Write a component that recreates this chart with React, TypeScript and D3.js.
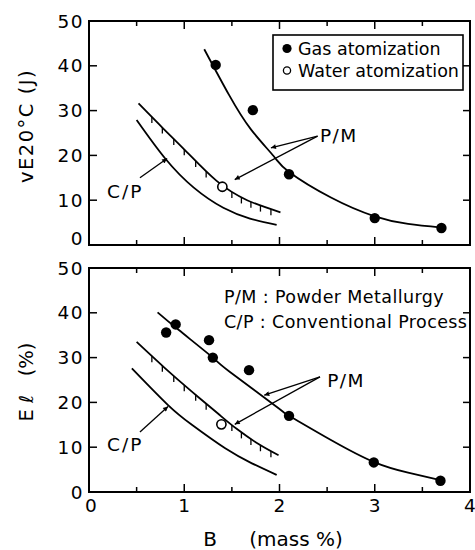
import React, { useEffect, useRef } from "react";
import * as d3 from "d3";

// ---------- data (B mass %, value) ----------
const xTickValues = [0, 1, 2, 3, 4];
const yTickValues = [0, 10, 20, 30, 40, 50];

// Top panel: vE20°C (J)
const topGasB = [1.33, 1.72, 2.1, 3.0, 3.7];
const topGasE = [40.2, 30.1, 15.8, 6.0, 3.8];
const topWaterB = [1.4];
const topWaterE = [13.0];
const topPMB = [1.21, 1.47, 1.7, 1.94, 2.1, 2.54, 3.0, 3.35, 3.7];
const topPME = [43.7, 33.5, 25.8, 19.8, 16.3, 10.6, 6.4, 4.7, 3.9];
const topCPUpperB = [0.52, 0.78, 1.03, 1.34, 1.66, 2.01];
const topCPUpperE = [31.6, 26.0, 20.7, 14.3, 10.0, 7.3];
const topCPLowerB = [0.5, 0.8, 1.1, 1.41, 1.69, 1.97];
const topCPLowerE = [27.9, 19.3, 12.8, 8.3, 5.9, 4.5];

// Bottom panel: El (%)
const botGasB = [0.81, 0.91, 1.26, 1.3, 1.68, 2.1, 2.99, 3.69];
const botGasE = [35.6, 37.4, 33.9, 30.0, 27.2, 17.0, 6.6, 2.5];
const botWaterB = [1.39];
const botWaterE = [15.1];
const botPMB = [0.72, 0.94, 1.3, 1.48, 1.99, 2.1, 2.54, 3.0, 3.35, 3.7];
const botPME = [40.1, 36.2, 30.0, 26.8, 18.7, 17.0, 11.6, 6.6, 4.3, 2.6];
const botCPUpperB = [0.5, 0.8, 1.08, 1.36, 1.55, 1.78, 1.99];
const botCPUpperE = [33.5, 27.6, 22.4, 17.4, 14.1, 10.7, 8.2];
const botCPLowerB = [0.45, 0.83, 1.08, 1.43, 1.71, 1.97];
const botCPLowerE = [27.6, 19.4, 15.0, 9.75, 6.4, 3.8];

// hatch positions along the C/P band (B values)
const hatchB = [0.66, 0.77, 0.89, 1.0, 1.12, 1.23, 1.5, 1.6, 1.7, 1.8, 1.91];

// annotations in data units
const topPMLabel = [2.425, 23.0];
const topPMArrowFrom = [2.4, 24.3];
const topPMArrowTo = [[1.91, 21.7], [1.53, 14.6]];
const topCPLabel = [0.19, 10.5];
const topCPArrowFrom = [0.535, 15.0];
const topCPArrowTo = [0.82, 19.3];

const botPMLabel = [2.5, 23.4];
const botPMArrowFrom = [2.425, 25.7];
const botPMArrowTo = [[1.84, 21.6], [1.53, 15.1]];
const botCPLabel = [0.19, 9.15];
const botCPArrowFrom = [0.535, 13.4];
const botCPArrowTo = [0.83, 19.1];

const legendLabels = ["Gas atomization", "Water atomization"];
const noteLines = ["P/M : Powder Metallurgy", "C/P : Conventional Process"];

const FONT = "'DejaVu Sans', sans-serif";

export default function App() {
  const ref = useRef<SVGSVGElement>(null);

  useEffect(() => {
    const svg = d3.select(ref.current);
    svg.selectAll("*").remove();

    const x = d3.scaleLinear().domain([0, 4]).range([89, 470]);
    const yTop = d3.scaleLinear().domain([0, 50]).range([245, 21]);
    const yBot = d3.scaleLinear().domain([0, 50]).range([492, 268]);

    const defs = svg.append("defs");
    defs
      .append("marker")
      .attr("id", "arr")
      .attr("viewBox", "0 0 10 10")
      .attr("refX", 10)
      .attr("refY", 5)
      .attr("markerWidth", 9)
      .attr("markerHeight", 5)
      .attr("markerUnits", "userSpaceOnUse")
      .attr("orient", "auto")
      .append("path")
      .attr("d", "M0,0 L10,5 L0,10 Z")
      .attr("fill", "#000");

    const zip = (a: number[], b: number[]) => a.map((v, i) => [v, b[i]] as [number, number]);

    const drawPanel = (
      y: d3.ScaleLinear<number, number>,
      p: {
        gasB: number[]; gasE: number[]; waterB: number[]; waterE: number[];
        pmB: number[]; pmE: number[]; upB: number[]; upE: number[]; loB: number[]; loE: number[];
        pmLabel: number[]; pmFrom: number[]; pmTo: number[][];
        cpLabel: number[]; cpFrom: number[]; cpTo: number[];
        zeroShift: number;
      }
    ) => {
      const g = svg.append("g");
      const [x0, x1] = x.range();
      const [y0, y1] = y.range();

      // ticks
      const minor = d3.range(0, 4.01, 0.5);
      minor.forEach((v) => {
        const len = Math.abs(v - Math.round(v)) < 1e-6 ? 8 : 5;
        g.append("line").attr("x1", x(v)).attr("x2", x(v)).attr("y1", y0).attr("y2", y0 - len)
          .attr("stroke", "#000").attr("stroke-width", 1.5);
        g.append("line").attr("x1", x(v)).attr("x2", x(v)).attr("y1", y1).attr("y2", y1 + len)
          .attr("stroke", "#000").attr("stroke-width", 1.5);
      });
      yTickValues.forEach((v) => {
        g.append("line").attr("x1", x0).attr("x2", x0 + 8).attr("y1", y(v)).attr("y2", y(v))
          .attr("stroke", "#000").attr("stroke-width", 1.5);
        g.append("line").attr("x1", x1).attr("x2", x1 - 7).attr("y1", y(v)).attr("y2", y(v))
          .attr("stroke", "#000").attr("stroke-width", 1.5);
        g.append("text")
          .attr("x", x0 - 5)
          .attr("y", y(v) + (v === 0 ? p.zeroShift : 0))
          .attr("dy", "0.36em")
          .attr("text-anchor", "end")
          .attr("font-family", FONT)
          .attr("font-size", 18.5)
          .attr("letter-spacing", 1.5)
          .text(String(v));
      });

      // frame
      g.append("rect").attr("x", x0).attr("y", y1).attr("width", x1 - x0).attr("height", y0 - y1)
        .attr("fill", "none").attr("stroke", "#000").attr("stroke-width", 2);

      const line = d3.line<[number, number]>()
        .x((d) => x(d[0])).y((d) => y(d[1]))
        .curve(d3.curveNatural);

      // C/P band
      const up = g.append("path").attr("d", line(zip(p.upB, p.upE)) as string)
        .attr("fill", "none").attr("stroke", "#000").attr("stroke-width", 1.8);
      g.append("path").attr("d", line(zip(p.loB, p.loE)) as string)
        .attr("fill", "none").attr("stroke", "#000").attr("stroke-width", 1.8);

      // hatch ticks hanging from upper curve
      const node = up.node() as SVGPathElement;
      const total = node.getTotalLength();
      const yAt = (px: number) => {
        let lo = 0, hi = total;
        for (let i = 0; i < 30; i++) {
          const mid = (lo + hi) / 2;
          if (node.getPointAtLength(mid).x < px) lo = mid; else hi = mid;
        }
        return node.getPointAtLength((lo + hi) / 2).y;
      };
      hatchB.forEach((b) => {
        const px = x(b);
        const py = yAt(px);
        g.append("line").attr("x1", px).attr("x2", px).attr("y1", py).attr("y2", py + 6)
          .attr("stroke", "#000").attr("stroke-width", 1.3);
      });

      // P/M curve
      g.append("path").attr("d", line(zip(p.pmB, p.pmE)) as string)
        .attr("fill", "none").attr("stroke", "#000").attr("stroke-width", 1.8);

      // points
      zip(p.gasB, p.gasE).forEach((d) => {
        g.append("circle").attr("cx", x(d[0])).attr("cy", y(d[1])).attr("r", 5.2).attr("fill", "#000");
      });
      zip(p.waterB, p.waterE).forEach((d) => {
        g.append("circle").attr("cx", x(d[0])).attr("cy", y(d[1])).attr("r", 4.6)
          .attr("fill", "#fff").attr("stroke", "#000").attr("stroke-width", 1.6);
      });

      // annotations
      g.append("text").attr("x", x(p.pmLabel[0])).attr("y", y(p.pmLabel[1]))
        .attr("font-family", FONT).attr("font-size", 18.5).attr("letter-spacing", 1.5).text("P/M");
      p.pmTo.forEach((t) => {
        g.append("line").attr("x1", x(p.pmFrom[0])).attr("y1", y(p.pmFrom[1]))
          .attr("x2", x(t[0])).attr("y2", y(t[1]))
          .attr("stroke", "#000").attr("stroke-width", 1.3).attr("marker-end", "url(#arr)");
      });
      g.append("text").attr("x", x(p.cpLabel[0])).attr("y", y(p.cpLabel[1]))
        .attr("font-family", FONT).attr("font-size", 18.5).attr("letter-spacing", 2).text("C/P");
      g.append("line").attr("x1", x(p.cpFrom[0])).attr("y1", y(p.cpFrom[1]))
        .attr("x2", x(p.cpTo[0])).attr("y2", y(p.cpTo[1]))
        .attr("stroke", "#000").attr("stroke-width", 1.3).attr("marker-end", "url(#arr)");
      return g;
    };

    const gTop = drawPanel(yTop, {
      gasB: topGasB, gasE: topGasE, waterB: topWaterB, waterE: topWaterE,
      pmB: topPMB, pmE: topPME, upB: topCPUpperB, upE: topCPUpperE, loB: topCPLowerB, loE: topCPLowerE,
      pmLabel: topPMLabel, pmFrom: topPMArrowFrom, pmTo: topPMArrowTo,
      cpLabel: topCPLabel, cpFrom: topCPArrowFrom, cpTo: topCPArrowTo,
      zeroShift: -7,
    });
    const gBot = drawPanel(yBot, {
      gasB: botGasB, gasE: botGasE, waterB: botWaterB, waterE: botWaterE,
      pmB: botPMB, pmE: botPME, upB: botCPUpperB, upE: botCPUpperE, loB: botCPLowerB, loE: botCPLowerE,
      pmLabel: botPMLabel, pmFrom: botPMArrowFrom, pmTo: botPMArrowTo,
      cpLabel: botCPLabel, cpFrom: botCPArrowFrom, cpTo: botCPArrowTo,
      zeroShift: 0,
    });

    // legend (top)
    const lg = gTop.append("g").attr("transform", "translate(273,35)");
    lg.append("rect").attr("width", 190).attr("height", 55).attr("fill", "#fff")
      .attr("stroke", "#000").attr("stroke-width", 1.6);
    lg.append("circle").attr("cx", 14).attr("cy", 13.5).attr("r", 4.6).attr("fill", "#000");
    lg.append("circle").attr("cx", 14).attr("cy", 35.5).attr("r", 3.6).attr("fill", "#fff")
      .attr("stroke", "#000").attr("stroke-width", 1.3);
    legendLabels.forEach((t, i) => {
      lg.append("text").attr("x", 25).attr("y", 20 + i * 22)
        .attr("font-family", FONT).attr("font-size", 17.5).text(t);
    });

    // notes (bottom)
    noteLines.forEach((t, i) => {
      gBot.append("text").attr("x", 224).attr("y", 303 + i * 25)
        .attr("font-family", FONT).attr("font-size", 17.5).attr("letter-spacing", 0.4).text(t);
    });

    // x tick labels
    xTickValues.forEach((v) => {
      svg.append("text").attr("x", x(v) + (v === 0 ? 2 : 0)).attr("y", 512)
        .attr("text-anchor", "middle").attr("font-family", FONT).attr("font-size", 18.5).text(String(v));
    });
    svg.append("text").attr("x", 210).attr("y", 546).attr("text-anchor", "middle")
      .attr("font-family", FONT).attr("font-size", 20).text("B");
    svg.append("text").attr("x", 296).attr("y", 546).attr("text-anchor", "middle")
      .attr("font-family", FONT).attr("font-size", 20).text("(mass %)");

    // y titles
    svg.append("text").attr("transform", "translate(33,126) rotate(-90)")
      .attr("text-anchor", "middle").attr("font-family", FONT).attr("font-size", 19.5)
      .attr("letter-spacing", 1.5).text("vE20°C (J)");
    svg.append("text").attr("transform", "translate(33,382) rotate(-90)")
      .attr("text-anchor", "middle").attr("font-family", FONT).attr("font-size", 19.5)
      .style("white-space", "pre").text("E \u2113   (%)");
  }, []);

  return (
    <svg
      ref={ref}
      width={475}
      height={550}
      style={{ position: "absolute", left: 0, top: 0, background: "#fff" }}
    />
  );
}
